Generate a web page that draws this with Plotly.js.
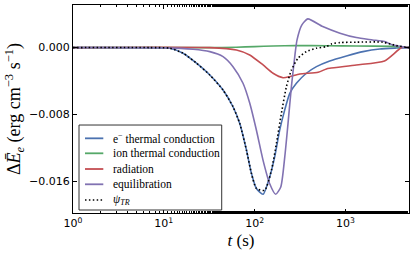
<!DOCTYPE html>
<html>
<head>
<meta charset="utf-8">
<script src="https://cdn.plot.ly/plotly-3.0.1.min.js"></script>
<style>html,body{margin:0;padding:0;background:#fff;}#chart{width:415px;height:260px;}</style>
</head>
<body>
<div id="chart"></div>
<script>
// time (s) and energy change (erg cm^-3 s^-1)
const tElec = [1, 7.0, 11.6, 16.3, 22.9, 32.1, 44.9, 57.8, 68.5, 81.3, 92.3, 104.7, 123.9, 146.6, 166.3, 188.8, 214.3, 243.8, 288.4, 371.5, 479.7, 671.4, 1026, 1563, 2388, 3648, 5012];
const eElec = [0, 0, -0.00007, -0.00067, -0.00187, -0.00328, -0.00508, -0.00708, -0.00907, -0.01228, -0.01507, -0.01687, -0.01756, -0.01548, -0.01308, -0.00988, -0.00748, -0.00547, -0.00427, -0.00307, -0.00228, -0.0016, -0.0010, -0.00048, -0.00016, -0.00005, 0];

const tIon = [1, 32.1, 63.1, 100, 159.6, 281.8, 631, 1318, 3311, 4467, 5012];
const eIon = [0, 0, 0.00005, 0.00012, 0.0002, 0.00024, 0.00022, 0.0002, 0.00015, 0.00008, 0];

const tRad = [1, 32.1, 63.1, 88.3, 123.9, 159.6, 205.6, 243.8, 314.1, 501, 617, 671.4, 1318, 2692, 4169, 5012];
const eRad = [0, 0, -0.00028, -0.00088, -0.00208, -0.00307, -0.0036, -0.00348, -0.00316, -0.00295, -0.00255, -0.00247, -0.00208, -0.0016, 0, 0];

const tEq = [1, 10, 21, 32.1, 44.9, 57.8, 74.5, 88.3, 104.7, 123.9, 146.6, 170.6, 194.1, 214.8, 233.3, 254.1, 276.7, 293.1, 330.4, 384.6, 562, 871, 1318, 1995, 2692, 3311, 4169, 5012];
const eEq = [0, -0.00003, -0.0002, -0.00048, -0.00108, -0.00228, -0.00427, -0.00664, -0.0099, -0.0135, -0.0163, -0.01756, -0.01668, -0.01308, -0.00907, -0.00467, -0.00107, 0.00092, 0.0027, 0.00344, 0.00252, 0.00173, 0.0012, 0.00092, 0.00072, 0.00032, 0.00012, 0];

const tPsi = [1, 7.0, 11.6, 16.3, 22.9, 32.1, 44.9, 57.8, 68.5, 81.3, 92.3, 104.7, 129.1, 153.1, 173.8, 197.2, 223.9, 254.1, 300.6, 371.5, 479.7, 618, 708, 871, 1318, 2570, 3631, 4467, 5012];
const ePsi = [0, 0, -0.00007, -0.00067, -0.00187, -0.00328, -0.00508, -0.00708, -0.00907, -0.01228, -0.01507, -0.01687, -0.01708, -0.01468, -0.01147, -0.00787, -0.00468, -0.00268, -0.00127, -0.00048, -0.00007, 0.00012, 0.00045, 0.0006, 0.00065, 0.00065, 0.00024, 0.00007, 0];

const names = ['e<sup>−</sup> thermal conduction', 'ion thermal conduction', 'radiation', 'equilibration', '<i>ψ</i><sub><i>TR</i></sub>'];
const colors = ['#4C72B0', '#55A868', '#C44E52', '#8172B2', '#000000'];
const xTickVals = [1, 10, 100, 1000];
const xTickText = ['10<sup>0</sup>', '10<sup>1</sup>', '10<sup>2</sup>', '10<sup>3</sup>'];
const yTickVals = [0, -0.008, -0.016];
const yTickText = ['0.000', '−0.008', '−0.016'];

const series = [[tElec, eElec], [tIon, eIon], [tRad, eRad], [tEq, eEq], [tPsi, ePsi]];
const traces = series.map((s, i) => ({
  type: 'scatter', mode: 'lines', x: s[0], y: s[1], name: names[i], showlegend: false,
  line: {color: colors[i], width: 1.6, shape: 'spline', smoothing: 0.6, dash: i === 4 ? '1.5px,2.4px' : 'solid'}
}));

// hand-built legend (matplotlib style box)
const L = {x0: 0.0179, x1: 0.4426, y0: 0.0144, y1: 0.423, s0: 0.0357, s1: 0.0902, tx: 0.117};
const rowY = [0.359, 0.287, 0.2115, 0.138, 0.0625];
const shapes = [{type: 'rect', xref: 'paper', yref: 'paper', x0: L.x0, x1: L.x1, y0: L.y0, y1: L.y1,
  fillcolor: '#ffffff', line: {color: '#333', width: 1}, layer: 'above'}];
const annotations = [];
names.forEach((n, i) => {
  shapes.push({type: 'line', xref: 'paper', yref: 'paper', x0: L.s0, x1: L.s1, y0: rowY[i], y1: rowY[i],
    line: {color: colors[i], width: i === 4 ? 1.4 : 1.8, dash: i === 4 ? '1.5px,2.4px' : 'solid'}, layer: 'above'});
  annotations.push({xref: 'paper', yref: 'paper', x: L.tx, y: rowY[i], xanchor: 'left', yanchor: 'middle',
    text: n, showarrow: false, borderpad: 0,
    font: {family: 'Liberation Serif, DejaVu Serif, serif', size: 11.5, color: '#000'}});
});

const layout = {
  width: 415, height: 260,
  margin: {l: 73, r: 6, t: 5, b: 47},
  paper_bgcolor: '#fff', plot_bgcolor: '#fff',
  showlegend: false,
  shapes: shapes, annotations: annotations,
  xaxis: {
    type: 'log', range: [0, 3.70],
    tickvals: xTickVals, ticktext: xTickText,
    ticks: 'inside', ticklen: 4, tickcolor: '#000',
    minor: {ticks: 'inside', ticklen: 2, tickcolor: '#000', showgrid: false},
    showline: true, linecolor: '#000', linewidth: 1, mirror: 'allticks',
    showgrid: false, zeroline: false,
    tickfont: {family: 'DejaVu Sans, sans-serif', size: 11, color: '#000'},
    title: {text: '<i>t</i> (s)', font: {family: 'Liberation Serif, DejaVu Serif, serif', size: 17, color: '#000'}, standoff: 4}
  },
  yaxis: {
    range: [-0.0198, 0.0051],
    tickvals: yTickVals, ticktext: yTickText,
    ticks: 'inside', ticklen: 4, tickcolor: '#000',
    showline: true, linecolor: '#000', linewidth: 1, mirror: 'allticks',
    showgrid: false, zeroline: false,
    tickfont: {family: 'DejaVu Sans, sans-serif', size: 11, color: '#000'},
    title: {text: 'Δ<i>Ē</i><sub><i>e</i></sub> (erg cm<sup>−3</sup> s<sup>−1</sup>)', font: {family: 'Liberation Serif, DejaVu Serif, serif', size: 18, color: '#000'}, standoff: 3}
  }
};

Plotly.newPlot('chart', traces, layout, {displayModeBar: false, staticPlot: true});
</script>
</body>
</html>
